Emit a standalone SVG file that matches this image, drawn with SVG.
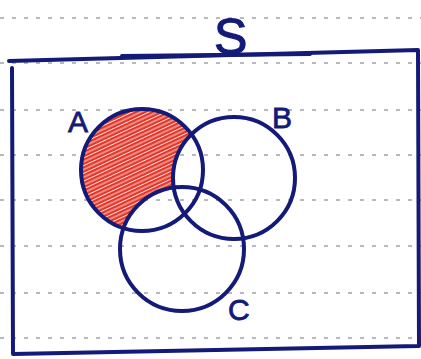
<svg xmlns="http://www.w3.org/2000/svg" width="421" height="359" viewBox="0 0 421 359">
<style>
.rule{stroke:#a2a2ae;stroke-width:1.5;stroke-dasharray:4 8;fill:none}
.ink{stroke:#141a78;stroke-width:4;fill:none;stroke-linecap:round;stroke-linejoin:round}
.lbl{font-family:"Liberation Sans",Arial,sans-serif;fill:#141a78;font-size:30px;stroke:#141a78;stroke-width:0.8}
.big{font-size:50px;stroke-width:1.2}
</style>
<defs>
<pattern id="hatch" width="10" height="7" patternUnits="userSpaceOnUse" patternTransform="rotate(-25)">
<rect width="10" height="7" fill="#fbe1d8"/>
<path d="M0 1.8 H10 M0 5.3 H10" stroke="#e4352a" stroke-width="2.6"/>
</pattern>
<mask id="onlyA">
<rect width="421" height="359" fill="black"/>
<circle cx="142" cy="170" r="61" fill="white"/>
<circle cx="234" cy="178" r="61" fill="black"/>
<circle cx="182" cy="249" r="62" fill="black"/>
</mask>
</defs>
<rect width="421" height="359" fill="#ffffff"/>
<g id="paper-lines">
<line class="rule" x1="0" y1="18" x2="421" y2="18"/>
<line class="rule" x1="0" y1="63" x2="421" y2="63"/>
<line class="rule" x1="0" y1="110" x2="421" y2="110"/>
<line class="rule" x1="0" y1="155" x2="421" y2="155"/>
<line class="rule" x1="0" y1="200" x2="421" y2="200"/>
<line class="rule" x1="0" y1="246" x2="421" y2="246"/>
<line class="rule" x1="0" y1="293" x2="421" y2="293"/>
<line class="rule" x1="0" y1="338" x2="421" y2="338"/>
</g>
<g id="universe">
<path class="ink" d="M9 61 L418 50 M12 68 L13 354 L418 346 M418 50 L419 346"/>
<path class="ink" d="M122 56 L310 54" stroke-width="2.6"/>
<text class="lbl big" x="214" y="54">S</text>
</g>
<g id="shade">
<rect x="70" y="100" width="150" height="140" fill="url(#hatch)" mask="url(#onlyA)"/>
</g>
<g id="circle-A">
<circle class="ink" cx="142" cy="170" r="61"/>
<text class="lbl" x="68" y="132">A</text>
</g>
<g id="circle-B">
<circle class="ink" cx="234" cy="178" r="61"/>
<text class="lbl" x="272" y="128">B</text>
</g>
<g id="circle-C">
<circle class="ink" cx="182" cy="249" r="62"/>
<text class="lbl" x="228" y="320">C</text>
</g>
</svg>
